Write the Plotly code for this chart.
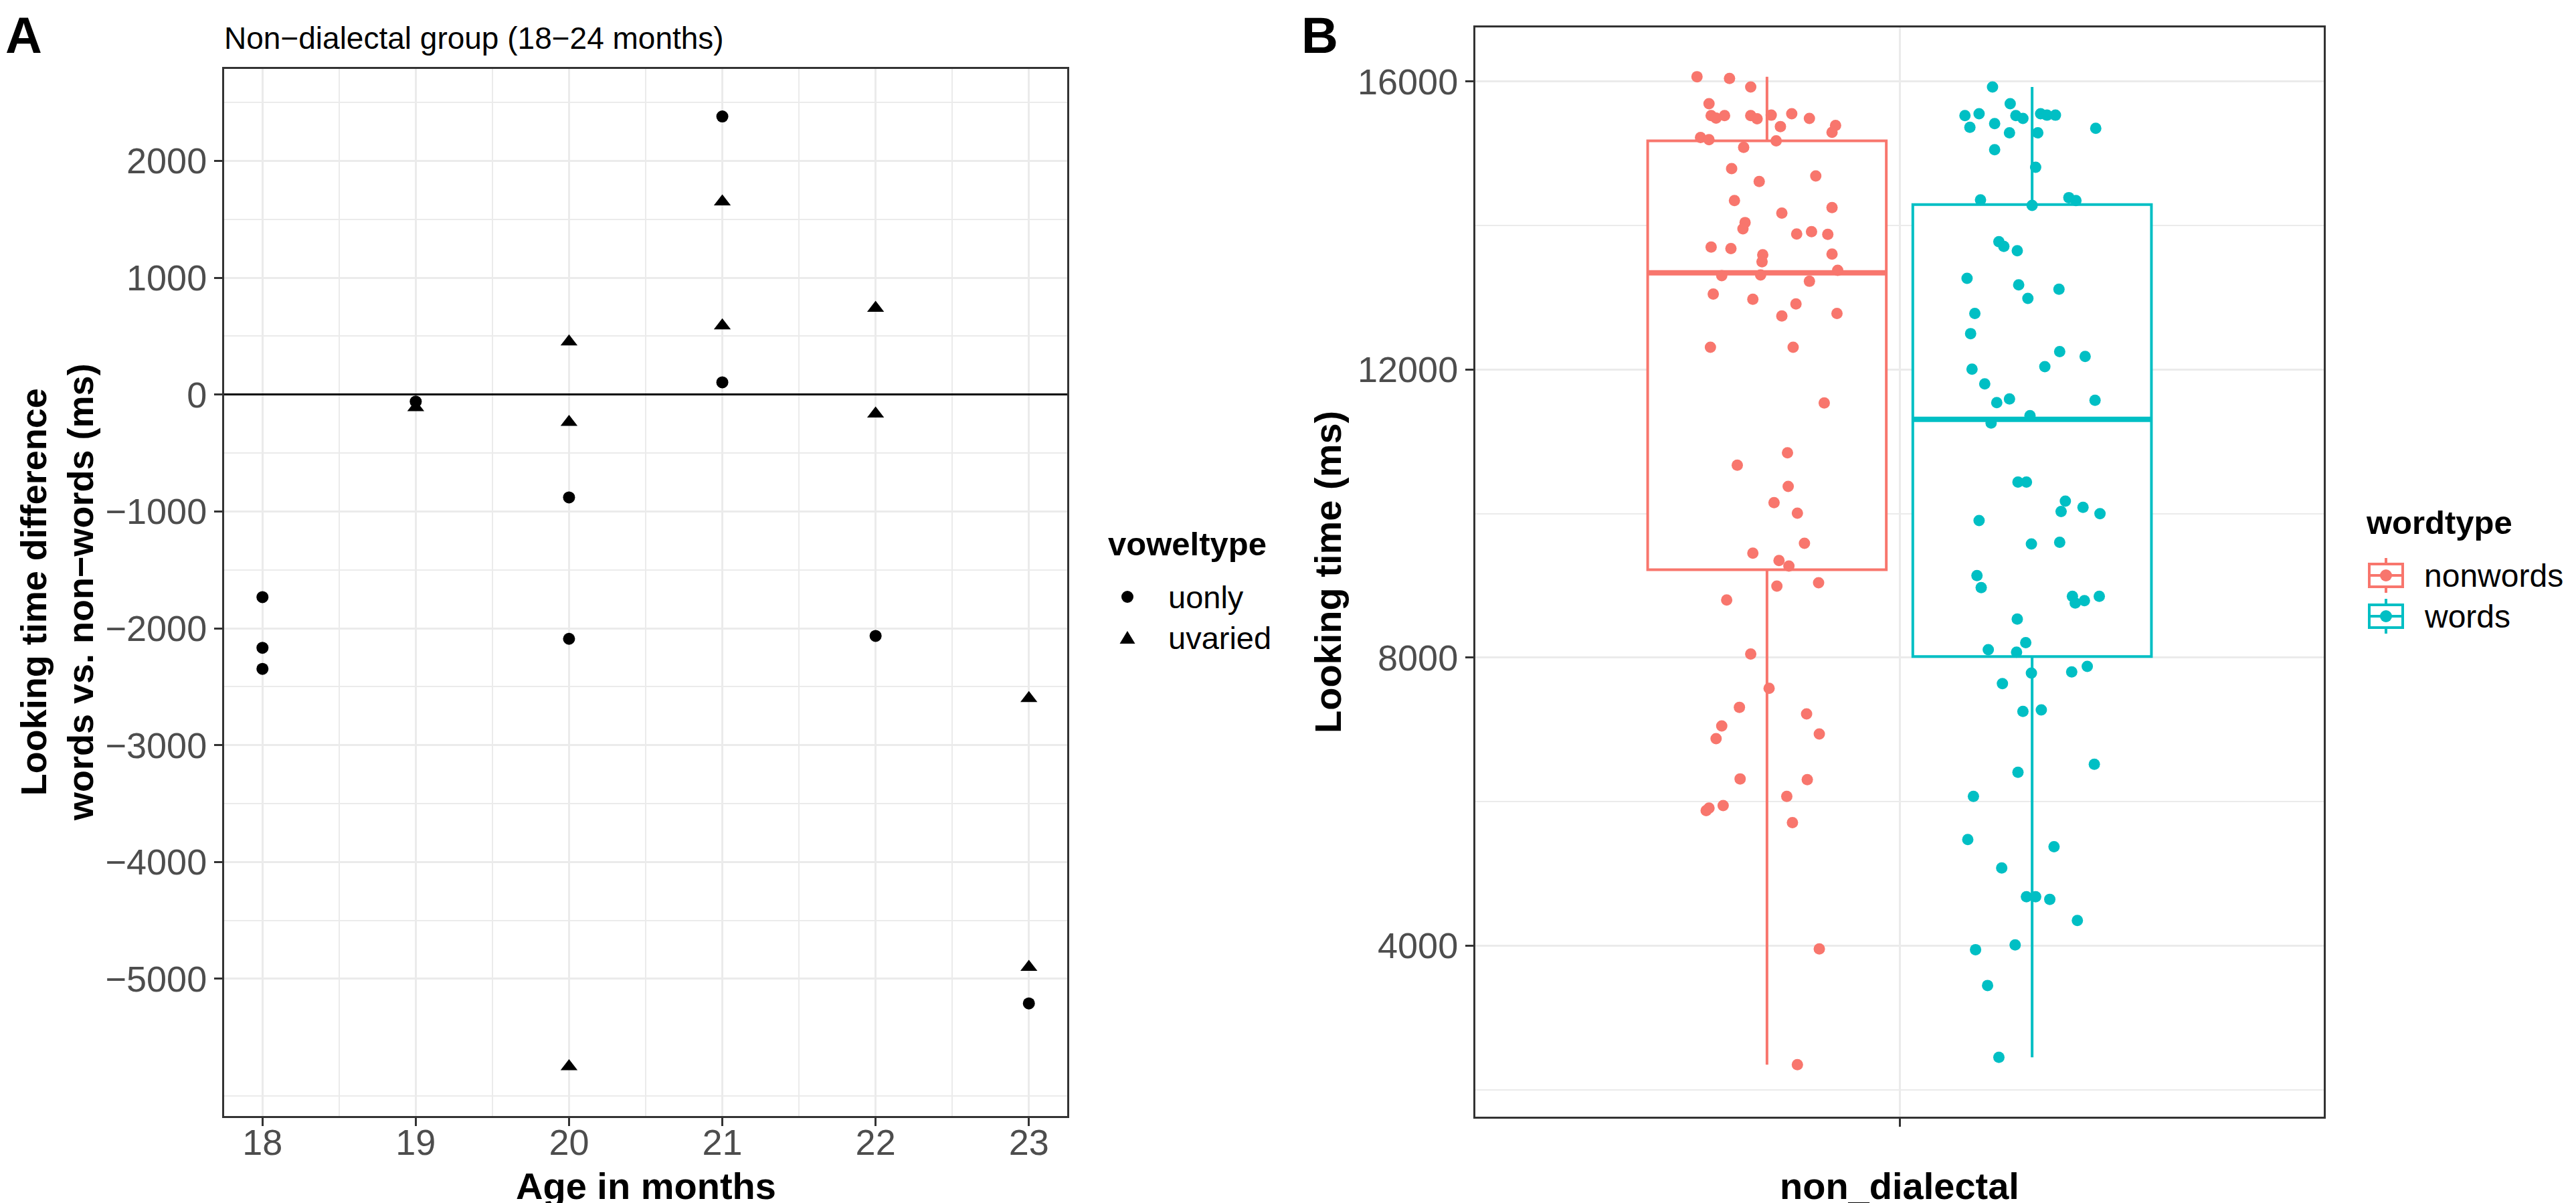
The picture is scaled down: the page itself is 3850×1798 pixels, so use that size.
import numpy as np
import plotly.graph_objects as go

# ---- panel A: looking-time difference by age ----
ages_uonly = [18, 18, 18, 19, 20, 20, 21, 21, 22, 23]
diff_uonly = [-1733, -2167, -2347, -60, -880, -2090, 2380, 105, -2065, -5210]
ages_uvaried = [19, 20, 20, 20, 21, 21, 22, 22, 23, 23]
diff_uvaried = [-110, 452, -236, -5750, 1650, 590, 740, -164, -2600, -4900]
age_ticks = [18, 19, 20, 21, 22, 23]
diff_ticks = [-5000, -4000, -3000, -2000, -1000, 0, 1000, 2000]
voweltypes = ["uonly", "uvaried"]

# ---- panel B: looking time per word type (jitter) ----
nonwords_ms = [16066, 16041, 15924, 15690, 15527, 15491, 15527, 15527, 15481, 15532,
               15552, 15486, 15374, 15389, 15293, 15221, 15191, 15176, 15084, 14789,
               14611, 14687, 14346, 14249, 14173, 14041, 13954, 13883, 13914, 13878,
               13700, 13679, 13593, 13496, 13603, 13379, 13303, 13313, 13226, 13048,
               12977, 12911, 12743, 12779, 12310, 12310, 11537, 10845, 10672, 10377,
               10153, 10005, 9588, 9450, 9349, 9272, 9039, 8993, 8801, 8051,
               7574, 7311, 7220, 7052, 6875, 6941, 6317, 6307, 6074, 5877,
               5912, 5947, 5709, 3956, 2349]
nonwords_jitter = [-0.099, -0.053, -0.023, -0.082, -0.079, -0.072, -0.060, -0.023, -0.014, 0.006,
                   0.035, 0.060, 0.019, 0.097, 0.092, -0.094, -0.082, 0.013, -0.033, -0.050,
                   -0.011, 0.069, -0.046, 0.092, 0.021, -0.031, -0.034, 0.042, 0.063, 0.086,
                   -0.079, -0.051, -0.006, -0.007, 0.092, 0.100, -0.064, -0.009, 0.060, -0.076,
                   -0.020, 0.041, 0.021, 0.099, -0.080, 0.037, 0.081, 0.029, -0.042, 0.030,
                   0.010, 0.043, 0.053, -0.020, 0.017, 0.031, 0.073, 0.014, -0.057, -0.023,
                   0.003, -0.039, 0.056, -0.064, -0.072, 0.074, -0.038, 0.057, 0.028, -0.086,
                   -0.082, -0.062, 0.036, 0.074, 0.043]
words_ms = [15924, 15690, 15527, 15552, 15527, 15486, 15552, 15532, 15532, 15364,
            15415, 15288, 15288, 15349, 15053, 14809, 14356, 14387, 14346, 14280,
            13776, 13710, 13649, 13267, 13176, 13115, 12987, 12779, 12499, 12249,
            12183, 12041, 12005, 11802, 11542, 11593, 11573, 11359, 11257, 10438,
            10438, 10173, 10030, 10087, 10000, 9903, 9578, 9603, 9140, 8973,
            8851, 8760, 8791, 8851, 8537, 8208, 8111, 8076, 7878, 7802,
            7787, 7640, 7255, 7275, 6520, 6409, 6074, 5476, 5375, 5081,
            4680, 4680, 4645, 4351, 4012, 3946, 3449, 2451]
words_jitter = [-0.056, -0.031, -0.095, -0.075, -0.023, -0.013, 0.012, 0.021, 0.033, -0.088,
                -0.053, -0.032, 0.008, 0.090, -0.053, 0.005, -0.073, 0.052, 0.062, 0.000,
                -0.047, -0.040, -0.021, -0.092, -0.019, 0.038, -0.006, -0.081, -0.087, 0.039,
                0.075, 0.018, -0.085, -0.067, -0.050, -0.032, 0.089, -0.003, -0.058, -0.020,
                -0.008, 0.047, 0.041, 0.072, 0.096, -0.075, -0.001, 0.039, -0.078, -0.072,
                0.057, 0.061, 0.074, 0.095, -0.021, -0.009, -0.062, -0.022, 0.078, 0.056,
                -0.001, -0.042, -0.013, 0.013, 0.088, -0.020, -0.083, -0.091, 0.031, -0.043,
                -0.008, 0.005, 0.025, 0.064, -0.024, -0.080, -0.063, -0.047]

wordtypes = ["nonwords", "words"]
box_q1 = [9221, 8017]
box_median = [13344, 11308]
box_q3 = [15176, 14290]
time_ticks = [4000, 8000, 12000, 16000]

FONT = "Liberation Sans, Arial, Helvetica, sans-serif"
W, H = 3850, 1798
colors = ["#F8766D", "#00BFC4"]
dodge = [-0.1875, 0.1875]
box_w = 0.3375


def px_x(p):
    return p / W


def px_y(p):
    return 1 - p / H


fig = go.Figure()

# panel A
fig.add_trace(go.Scatter(x=ages_uonly, y=diff_uonly, mode="markers", name="uonly",
                         marker=dict(symbol="circle", size=18, color="black"),
                         showlegend=False, xaxis="x", yaxis="y"))
fig.add_trace(go.Scatter(x=ages_uvaried, y=diff_uvaried, mode="markers", name="uvaried",
                         marker=dict(symbol="triangle-up", size=22, color="black"),
                         showlegend=False, xaxis="x", yaxis="y"))

# panel B
groups = [(nonwords_ms, nonwords_jitter), (words_ms, words_jitter)]
for i, (vals, jit) in enumerate(groups):
    c = 1 + dodge[i]
    fig.add_trace(go.Box(
        x=[c], q1=[box_q1[i]], median=[box_median[i]], q3=[box_q3[i]],
        lowerfence=[min(vals)], upperfence=[max(vals)],
        width=box_w, whiskerwidth=0, boxpoints=False,
        fillcolor="white", line=dict(color=colors[i], width=4),
        name=wordtypes[i], showlegend=False, xaxis="x2", yaxis="y2"))
    fig.add_trace(go.Scatter(
        x=[c - box_w / 2, c + box_w / 2], y=[box_median[i]] * 2, mode="lines",
        line=dict(color=colors[i], width=8), showlegend=False,
        hoverinfo="skip", xaxis="x2", yaxis="y2"))
    fig.add_trace(go.Scatter(
        x=c + np.array(jit), y=vals, mode="markers", name=wordtypes[i],
        marker=dict(size=17, color=colors[i]), showlegend=False,
        xaxis="x2", yaxis="y2"))

grid = "#EBEBEB"
minor_grid = dict(showgrid=True, gridcolor=grid, gridwidth=1.5, ticks="")
axis_common = dict(showline=True, mirror=True, linecolor="#333333", linewidth=3,
                   ticks="outside", ticklen=12, tickwidth=3, tickcolor="#333333",
                   tickfont=dict(family=FONT, size=54, color="#4D4D4D"),
                   showgrid=True, gridcolor=grid, gridwidth=3, zeroline=False)

fig.update_layout(
    width=W, height=H, autosize=False,
    margin=dict(l=0, r=0, t=0, b=0),
    paper_bgcolor="white", plot_bgcolor="white",
    font=dict(family=FONT, color="black"),
    showlegend=False,
    xaxis=dict(domain=[px_x(327), px_x(1587)], range=[17.75, 23.25],
               tickvals=age_ticks, anchor="y", ticklabelstandoff=-22,
               minor=dict(tickvals=[a + 0.5 for a in age_ticks[:-1]], **minor_grid),
               **axis_common),
    yaxis=dict(domain=[px_y(1660), px_y(95)], range=[-6174, 2787],
               tickvals=diff_ticks, anchor="x",
               minor=dict(tickvals=[-6000] + [d + 500 for d in diff_ticks], **minor_grid),
               **{**axis_common, "zeroline": True},
               zerolinecolor="black", zerolinewidth=3),
    xaxis2=dict(domain=[px_x(2197), px_x(3465)], range=[0.4, 1.6],
                tickvals=[1], ticktext=[""], anchor="y2", **axis_common),
    yaxis2=dict(domain=[px_y(1660.7), px_y(33)], range=[1630, 16750],
                tickvals=time_ticks, tickformat="d", anchor="x2",
                minor=dict(tickvals=[t - 2000 for t in time_ticks], **minor_grid),
                **axis_common),
)


def paper_shape(kind, x0, x1, y0, y1, **kw):
    fig.add_shape(type=kind, xref="paper", yref="paper", x0=px_x(x0), x1=px_x(x1),
                  y0=px_y(y0), y1=px_y(y1), **kw)


def label(text, x, y, size, bold=False):
    fig.add_annotation(text=f"<b>{text}</b>" if bold else text, x=px_x(x), y=px_y(y),
                       xref="paper", yref="paper", xanchor="left", yanchor="middle",
                       showarrow=False, font=dict(family=FONT, size=size, color="black"))


# legend for panel A (hand drawn keys)
vrows = [884, 945]
kx = 1677
paper_shape("circle", kx - 9, kx + 9, vrows[0] + 9, vrows[0] - 9,
            line=dict(width=0), fillcolor="black")
tri = "M {:.5f},{:.5f} L {:.5f},{:.5f} L {:.5f},{:.5f} Z".format(
    px_x(kx - 11.5), px_y(vrows[1] + 9), px_x(kx + 11.5), px_y(vrows[1] + 9),
    px_x(kx), px_y(vrows[1] - 10))
fig.add_shape(type="path", xref="paper", yref="paper", path=tri,
              line=dict(width=0), fillcolor="black")
for i, vt in enumerate(voweltypes):
    label(vt, 1736, vrows[i], 47)
label("voweltype", 1646, 805, 49, bold=True)

# legend for panel B (ggplot style boxplot keys)
key_rows = [852, 913]
kx0, kx1 = 3533, 3583
kc = (kx0 + kx1) / 2
for i, wt in enumerate(wordtypes):
    yc = key_rows[i]
    ln = dict(color=colors[i], width=4)
    paper_shape("line", kc, kc, yc - 26, yc + 26, line=ln)
    paper_shape("rect", kx0, kx1, yc + 17, yc - 17, line=ln, fillcolor="white")
    paper_shape("line", kx0, kx1, yc, yc, line=ln)
    paper_shape("circle", kc - 9, kc + 9, yc + 9, yc - 9, line=dict(width=0),
                fillcolor=colors[i])
    label(wt, 3613, yc, 48)
label("wordtype", 3526, 773, 49, bold=True)

ann = [
    dict(text="<b>A</b>", x=px_x(-2), y=1, xanchor="left", yanchor="top", size=76, angle=0),
    dict(text="<b>B</b>", x=px_x(1935), y=1, xanchor="left", yanchor="top", size=76, angle=0),
    dict(text="Non\u2212dialectal group (18\u221224 months)", x=px_x(325), y=px_y(49),
         xanchor="left", yanchor="middle", size=46, angle=0),
    dict(text="<b>Looking time difference<br>words vs. non\u2212words (ms)</b>", x=px_x(77),
         y=px_y(877), xanchor="center", yanchor="middle", size=54, angle=-90),
    dict(text="<b>Age in months</b>", x=px_x(957), y=px_y(1764), xanchor="center",
         yanchor="middle", size=56, angle=0),
    dict(text="<b>Looking time (ms)</b>", x=px_x(1976), y=px_y(847), xanchor="center",
         yanchor="middle", size=56, angle=-90),
    dict(text="<b>non_dialectal</b>", x=px_x(2831), y=px_y(1764), xanchor="center",
         yanchor="middle", size=56, angle=0),
]
for a in ann:
    fig.add_annotation(text=a["text"], x=a["x"], y=a["y"], xref="paper", yref="paper",
                       xanchor=a["xanchor"], yanchor=a["yanchor"], showarrow=False,
                       textangle=a["angle"], font=dict(family=FONT, size=a["size"], color="black"))

fig.write_html("out.html")
